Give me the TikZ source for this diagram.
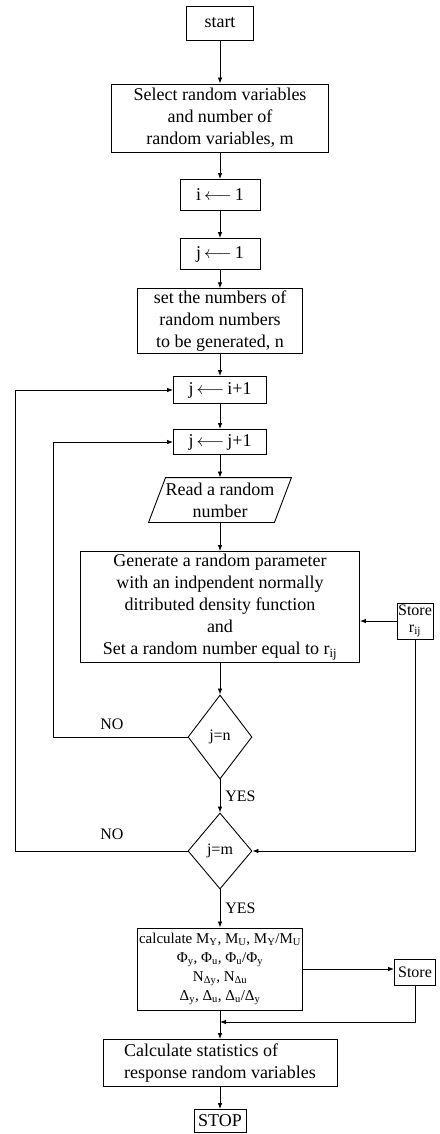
\documentclass[tikz,border=0pt]{standalone}
\usepackage{fontspec}
\setmainfont{Liberation Serif}
\usetikzlibrary{arrows.meta,shapes.geometric}
\begin{document}
\begin{tikzpicture}[x=1pt,y=-1pt,
  box/.style={draw,line width=0.9pt,inner sep=2pt,align=center,font=\fontsize{18}{22}\selectfont},
  arr/.style={-{Latex[length=6pt,width=4.5pt]},line width=0.8pt},
  lbl/.style={font=\fontsize{16}{18}\selectfont,inner sep=1pt},
  dia/.style={draw,diamond,line width=0.9pt,inner sep=0pt,minimum width=64pt,font=\fontsize{16}{18}\selectfont},
  storebox/.style={draw,line width=0.9pt,inner sep=1pt,align=center,font=\fontsize{16}{17}\selectfont}]
\useasboundingbox (0,0) rectangle (439,1134);

\node[box,minimum width=67pt,minimum height=34pt] (start) at (220,23) {start};
\node[box,minimum width=217pt,minimum height=68pt] (select) at (220,118)
  {Select random variables\\and number of\\random variables, m};
\node[box,minimum width=80pt,minimum height=31pt] (i1) at (220,195) {i\,$\longleftarrow$\,1};
\node[box,minimum width=80pt,minimum height=31pt] (j1) at (220,254) {j\,$\longleftarrow$\,1};
\node[box,minimum width=165pt,minimum height=59pt] (set) at (220,321)
  {set the numbers of\\random numbers\\to be generated, n};
\node[box,minimum width=93pt,minimum height=27pt] (ji) at (220,390) {j\,$\longleftarrow$\,i+1};
\node[box,minimum width=93pt,minimum height=25pt] (jj) at (220,442) {j\,$\longleftarrow$\,j+1};
\node[box,draw=none,minimum width=125pt,minimum height=44pt] (read) at (220,500)
  {Read a random\\number};
\draw[line width=0.9pt] ([xshift=8.5pt]read.north west) -- ([xshift=8.5pt]read.north east)
  -- ([xshift=-8.5pt]read.south east) -- ([xshift=-8.5pt]read.south west) -- cycle;
\node[box,minimum width=279pt,minimum height=111pt] (gen) at (220,607)
  {Generate a random parameter\\with an indpendent normally\\ditributed density function\\and\\Set a random number equal to r\textsubscript{ij}};
\node[storebox,minimum width=36pt,minimum height=36pt] (store1) at (415,621) {Store\\r\textsubscript{ij}};
\node[dia,minimum height=84pt] (dn) at (220,737) {j=n};
\node[dia,minimum height=76pt] (dm) at (220,851) {j=m};
\node[box,minimum width=162pt,minimum height=82pt,font=\fontsize{15}{19}\selectfont] (calc) at (220,969)
  {calculate M\textsubscript{Y}, M\textsubscript{U}, M\textsubscript{Y}/M\textsubscript{U}\\
   Φ\textsubscript{y}, Φ\textsubscript{u}, Φ\textsubscript{u}/Φ\textsubscript{y}\\
   N\textsubscript{Δy}, N\textsubscript{Δu}\\
   Δ\textsubscript{y}, Δ\textsubscript{u}, Δ\textsubscript{u}/Δ\textsubscript{y}};
\node[storebox,minimum width=41pt,minimum height=26pt] (store2) at (415,972) {Store};
\node[box,align=left,minimum width=234pt,minimum height=47pt] (stats) at (220,1063)
  {Calculate statistics of\\response random variables};
\node[box,minimum width=52pt,minimum height=23pt,inner sep=1pt] (stop) at (220,1121) {STOP};

\node[lbl] (no1) at (112,724) {NO};
\node[lbl] (no2) at (112,834) {NO};

\coordinate (lx1) at (15,0);
\coordinate (lx2) at (53,0);
\coordinate (jn) at (220,1022);

\draw[arr] (start) -- (select);
\draw[arr] (select) -- (i1);
\draw[arr] (i1) -- (j1);
\draw[arr] (j1) -- (set);
\draw[arr] (set) -- (ji);
\draw[arr] (ji) -- (jj);
\draw[arr] (jj) -- (read);
\draw[arr] (read) -- (gen);
\draw[arr] (gen) -- (dn);
\draw[arr] (dn) -- (dm) node[lbl,midway,right=4pt] {YES};
\draw[arr] (dm) -- (calc) node[lbl,midway,right=4pt] {YES};
\draw[arr] (calc) -- (stats);
\draw[arr] (stats) -- (stop);
\draw[arr] (store1.west) -- (store1.west -| gen.east);
\draw[arr] (store1.south) |- (dm.east);
\draw[arr] (dn.west) -- (dn.west -| lx2) -- (lx2 |- jj.west) -- (jj.west);
\draw[arr] (dm.west) -- (dm.west -| lx1) -- (lx1 |- ji.west) -- (ji.west);
\draw[arr] (calc.east) -- (calc.east -| store2.west);
\draw[arr] (store2.south) |- (jn);
\end{tikzpicture}
\end{document}
